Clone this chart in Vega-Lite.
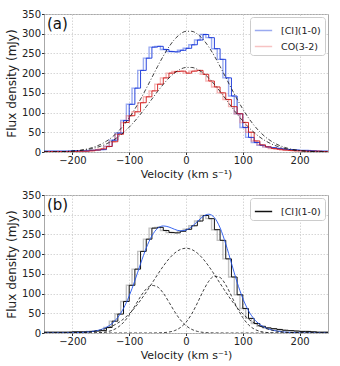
{
  "$schema": "https://vega.github.io/schema/vega-lite/v6.json",
  "background": "white",
  "padding": {"left": 4, "top": 8, "right": 10, "bottom": 2},
  "spacing": 9,
  "datasets": {
    "labels_a": [{"label": "(a)"}],
    "labels_b": [{"label": "(b)"}],
    "ci": [
      {"v":-250,"f":2},{"v":-240,"f":2},{"v":-230,"f":2},{"v":-220,"f":2},{"v":-210,"f":2},
      {"v":-200,"f":3},{"v":-190,"f":3},{"v":-180,"f":3},{"v":-170,"f":4},{"v":-160,"f":5},
      {"v":-150,"f":6},{"v":-140,"f":14},{"v":-130,"f":30},{"v":-120,"f":48},{"v":-110,"f":80},
      {"v":-100,"f":121},{"v":-90,"f":162},{"v":-80,"f":207},{"v":-70,"f":238},{"v":-60,"f":266},
      {"v":-50,"f":268},{"v":-40,"f":260},{"v":-30,"f":255},{"v":-20,"f":254},{"v":-10,"f":258},
      {"v":0,"f":263},{"v":10,"f":272},{"v":20,"f":284},{"v":30,"f":298},{"v":40,"f":290},
      {"v":50,"f":262},{"v":60,"f":235},{"v":70,"f":188},{"v":80,"f":142},{"v":90,"f":97},
      {"v":100,"f":62},{"v":110,"f":37},{"v":120,"f":24},{"v":130,"f":17},{"v":140,"f":13},
      {"v":150,"f":11},{"v":160,"f":9},{"v":170,"f":7},{"v":180,"f":6},{"v":190,"f":5},
      {"v":200,"f":4},{"v":210,"f":4},{"v":220,"f":3},{"v":230,"f":2},{"v":240,"f":2},{"v":250,"f":2}
    ],
    "co": [
      {"v":-250,"f":1},{"v":-240,"f":1},{"v":-230,"f":1},{"v":-220,"f":1},{"v":-210,"f":1},
      {"v":-200,"f":1},{"v":-190,"f":2},{"v":-180,"f":2},{"v":-170,"f":3},{"v":-160,"f":5},
      {"v":-150,"f":8},{"v":-140,"f":14},{"v":-130,"f":26},{"v":-120,"f":45},{"v":-110,"f":75},
      {"v":-100,"f":92},{"v":-90,"f":102},{"v":-80,"f":125},{"v":-70,"f":140},{"v":-60,"f":155},
      {"v":-50,"f":172},{"v":-40,"f":188},{"v":-30,"f":200},{"v":-20,"f":204},{"v":-10,"f":205},
      {"v":0,"f":200},{"v":10,"f":205},{"v":20,"f":207},{"v":30,"f":197},{"v":40,"f":180},
      {"v":50,"f":165},{"v":60,"f":150},{"v":70,"f":133},{"v":80,"f":115},{"v":90,"f":97},
      {"v":100,"f":75},{"v":110,"f":50},{"v":120,"f":28},{"v":130,"f":18},{"v":140,"f":13},
      {"v":150,"f":9},{"v":160,"f":7},{"v":170,"f":5},{"v":180,"f":4},{"v":190,"f":3},
      {"v":200,"f":3},{"v":210,"f":2},{"v":220,"f":2},{"v":230,"f":2},{"v":240,"f":1},{"v":250,"f":1}
    ],
    "fa": [
      {"v":-250,"ci":0.2,"co":0.2},{"v":-240,"ci":0.3,"co":0.3},{"v":-230,"ci":0.5,"co":0.5},
      {"v":-220,"ci":0.9,"co":0.8},{"v":-210,"ci":1.5,"co":1.3},{"v":-200,"ci":2.5,"co":2.0},
      {"v":-190,"ci":3.9,"co":3.1},{"v":-180,"ci":6.0,"co":4.8},{"v":-170,"ci":9.1,"co":7.1},
      {"v":-160,"ci":13.5,"co":10.4},{"v":-150,"ci":19.5,"co":14.8},{"v":-140,"ci":27.5,"co":20.7},
      {"v":-130,"ci":37.9,"co":28.2},{"v":-120,"ci":51.1,"co":37.7},{"v":-110,"ci":67.3,"co":49.3},
      {"v":-100,"ci":86.6,"co":63.0},{"v":-90,"ci":109.0,"co":78.7},{"v":-80,"ci":134.0,"co":96.1},
      {"v":-70,"ci":161.0,"co":114.9},{"v":-60,"ci":189.0,"co":134.3},{"v":-50,"ci":217.0,"co":153.5},
      {"v":-40,"ci":243.3,"co":171.6},{"v":-30,"ci":266.7,"co":187.6},{"v":-20,"ci":285.8,"co":200.5},
      {"v":-10,"ci":299.2,"co":209.7},{"v":0,"ci":306.1,"co":214.4},{"v":10,"ci":306.1,"co":214.4},
      {"v":20,"ci":299.2,"co":209.7},{"v":30,"ci":285.8,"co":200.5},{"v":40,"ci":266.7,"co":187.6},
      {"v":50,"ci":243.3,"co":171.6},{"v":60,"ci":217.0,"co":153.5},{"v":70,"ci":189.0,"co":134.3},
      {"v":80,"ci":161.0,"co":114.9},{"v":90,"ci":134.0,"co":96.1},{"v":100,"ci":109.0,"co":78.7},
      {"v":110,"ci":86.6,"co":63.0},{"v":120,"ci":67.3,"co":49.3},{"v":130,"ci":51.1,"co":37.7},
      {"v":140,"ci":37.9,"co":28.2},{"v":150,"ci":27.5,"co":20.7},{"v":160,"ci":19.5,"co":14.8},
      {"v":170,"ci":13.5,"co":10.4},{"v":180,"ci":9.1,"co":7.1},{"v":190,"ci":6.0,"co":4.8},
      {"v":200,"ci":3.9,"co":3.1},{"v":210,"ci":2.5,"co":2.0},{"v":220,"ci":1.5,"co":1.3},
      {"v":230,"ci":0.9,"co":0.8},{"v":240,"ci":0.5,"co":0.5},{"v":250,"ci":0.3,"co":0.3}
    ],
    "fb": [
      {"v":-250,"L":0,"C":0,"R":0,"T":0},{"v":-240,"L":0,"C":0,"R":0,"T":0},
      {"v":-230,"L":0,"C":0.1,"R":0,"T":0.1},{"v":-220,"L":0,"C":0.2,"R":0,"T":0.2},
      {"v":-210,"L":0,"C":0.3,"R":0,"T":0.3},{"v":-200,"L":0,"C":0.6,"R":0,"T":0.6},
      {"v":-190,"L":0,"C":1.0,"R":0,"T":1.0},{"v":-180,"L":0,"C":1.7,"R":0,"T":1.7},
      {"v":-170,"L":0.1,"C":2.9,"R":0,"T":3.0},{"v":-160,"L":0.4,"C":4.8,"R":0,"T":5.2},
      {"v":-150,"L":1.1,"C":7.6,"R":0,"T":8.7},{"v":-140,"L":2.9,"C":11.7,"R":0,"T":14.6},
      {"v":-130,"L":6.8,"C":17.4,"R":0,"T":24.2},{"v":-120,"L":14.3,"C":25.3,"R":0,"T":39.6},
      {"v":-110,"L":26.9,"C":35.6,"R":0,"T":62.5},{"v":-100,"L":45.4,"C":48.6,"R":0,"T":94.0},
      {"v":-90,"L":68.5,"C":64.5,"R":0,"T":133.0},{"v":-80,"L":92.5,"C":83.1,"R":0,"T":175.6},
      {"v":-70,"L":111.7,"C":103.8,"R":0,"T":215.5},{"v":-60,"L":120.7,"C":125.9,"R":0,"T":246.6},
      {"v":-50,"L":116.8,"C":148.3,"R":0.3,"T":265.4},{"v":-40,"L":101.1,"C":169.5,"R":0.9,"T":271.5},
      {"v":-30,"L":78.3,"C":188.1,"R":2.4,"T":268.8},{"v":-20,"L":54.2,"C":202.6,"R":6.1,"T":262.9},
      {"v":-10,"L":33.6,"C":211.8,"R":13.7,"T":259.1},{"v":0,"L":18.7,"C":215.0,"R":27.3,"T":261.0},
      {"v":10,"L":9.3,"C":211.8,"R":48.3,"T":269.4},{"v":20,"L":4.1,"C":202.6,"R":75.9,"T":282.6},
      {"v":30,"L":1.6,"C":188.1,"R":105.9,"T":295.6},{"v":40,"L":0.6,"C":169.5,"R":131.1,"T":301.2},
      {"v":50,"L":0.2,"C":148.3,"R":144.2,"T":292.7},{"v":60,"L":0.1,"C":125.9,"R":140.8,"T":266.8},
      {"v":70,"L":0,"C":103.8,"R":122.1,"T":225.9},{"v":80,"L":0,"C":83.1,"R":94.0,"T":177.1},
      {"v":90,"L":0,"C":64.5,"R":64.2,"T":128.7},{"v":100,"L":0,"C":48.6,"R":39.0,"T":87.6},
      {"v":110,"L":0,"C":35.6,"R":21.0,"T":56.6},{"v":120,"L":0,"C":25.3,"R":10.0,"T":35.3},
      {"v":130,"L":0,"C":17.4,"R":4.3,"T":21.7},{"v":140,"L":0,"C":11.7,"R":1.6,"T":13.3},
      {"v":150,"L":0,"C":7.6,"R":0.5,"T":8.1},{"v":160,"L":0,"C":4.8,"R":0.2,"T":5.0},
      {"v":170,"L":0,"C":2.9,"R":0,"T":2.9},{"v":180,"L":0,"C":1.7,"R":0,"T":1.7},
      {"v":190,"L":0,"C":1.0,"R":0,"T":1.0},{"v":200,"L":0,"C":0.6,"R":0,"T":0.6},
      {"v":210,"L":0,"C":0.3,"R":0,"T":0.3},{"v":220,"L":0,"C":0.2,"R":0,"T":0.2},
      {"v":230,"L":0,"C":0.1,"R":0,"T":0.1},{"v":240,"L":0,"C":0,"R":0,"T":0},
      {"v":250,"L":0,"C":0,"R":0,"T":0}
    ]
  },
  "resolve": {"scale": {"color": "independent"}, "legend": {"color": "independent"}},
  "vconcat": [
    {
      "width": 284,
      "height": 138,
      "layer": [
        {"data": {"name": "ci"}, "mark": {"type": "line", "interpolate": "step", "strokeWidth": 1.4, "opacity": 0.45, "clip": true},
         "encoding": {
           "x": {"field": "v", "type": "quantitative", "scale": {"domain": [-250, 250], "nice": false, "zero": false}, "axis": {"title": "Velocity (km s⁻¹)"}},
           "y": {"field": "f", "type": "quantitative", "scale": {"domain": [0, 350], "nice": false}, "axis": {"title": "Flux density (mJy)"}},
           "color": {"datum": "[CI](1-0)", "type": "nominal", "scale": {"domain": ["[CI](1-0)", "CO(3-2)"], "range": ["#2244e0", "#ee7b7b"]}, "legend": {"title": null, "orient": "top-right", "offset": 3, "fillColor": "white", "strokeColor": "#cccccc", "cornerRadius": 3, "padding": 4, "symbolType": "stroke", "symbolSize": 300, "symbolStrokeWidth": 1.5, "labelFontSize": 9.5, "labelColor": "#222", "rowPadding": 2, "labelOffset": 8}}}},
        {"data": {"name": "co"}, "mark": {"type": "line", "interpolate": "step", "strokeWidth": 1.4, "opacity": 0.55, "clip": true},
         "encoding": {"x": {"field": "v", "type": "quantitative"}, "y": {"field": "f", "type": "quantitative"}, "color": {"datum": "CO(3-2)", "type": "nominal"}}},
        {"data": {"name": "ci"}, "mark": {"type": "line", "interpolate": "step-after", "strokeWidth": 0.9, "color": "#1030d8", "clip": true},
         "encoding": {"x": {"field": "v", "type": "quantitative"}, "y": {"field": "f", "type": "quantitative"}}},
        {"data": {"name": "co"}, "mark": {"type": "line", "interpolate": "step-after", "strokeWidth": 0.9, "color": "#d01818", "clip": true},
         "encoding": {"x": {"field": "v", "type": "quantitative"}, "y": {"field": "f", "type": "quantitative"}}},
        {"data": {"name": "fa"}, "transform": [{"fold": ["ci", "co"], "as": ["g", "f"]}],
         "mark": {"type": "line", "interpolate": "monotone", "strokeWidth": 0.8, "color": "#111", "strokeDash": [4, 2, 1, 2], "clip": true},
         "encoding": {"x": {"field": "v", "type": "quantitative"}, "y": {"field": "f", "type": "quantitative"}, "detail": {"field": "g", "type": "nominal"}}},
        {"data": {"name": "labels_a"}, "mark": {"type": "text", "align": "left", "baseline": "top", "fontSize": 15, "dx": 3, "dy": 3, "color": "#111"},
         "encoding": {"text": {"field": "label", "type": "nominal"},
           "x": {"datum": -250, "type": "quantitative", "axis": {"title": "Velocity (km s⁻¹)"}},
           "y": {"datum": 350, "type": "quantitative", "axis": {"title": "Flux density (mJy)"}}}}
      ]
    },
    {
      "width": 284,
      "height": 138,
      "layer": [
        {"data": {"name": "ci"}, "mark": {"type": "line", "interpolate": "step", "strokeWidth": 1.4, "opacity": 0.45, "color": "#777777", "clip": true},
         "encoding": {
           "x": {"field": "v", "type": "quantitative", "scale": {"domain": [-250, 250], "nice": false, "zero": false}, "axis": {"title": "Velocity (km s⁻¹)"}},
           "y": {"field": "f", "type": "quantitative", "scale": {"domain": [0, 350], "nice": false}, "axis": {"title": "Flux density (mJy)"}}}},
        {"data": {"name": "ci"}, "mark": {"type": "line", "interpolate": "step-after", "strokeWidth": 1.0, "clip": true},
         "encoding": {"x": {"field": "v", "type": "quantitative"}, "y": {"field": "f", "type": "quantitative"},
           "color": {"datum": "[CI](1-0)", "type": "nominal", "scale": {"domain": ["[CI](1-0)"], "range": ["#111111"]}, "legend": {"title": null, "orient": "top-right", "offset": 3, "fillColor": "white", "strokeColor": "#cccccc", "cornerRadius": 3, "padding": 4, "symbolType": "stroke", "symbolSize": 300, "symbolStrokeWidth": 1.5, "labelFontSize": 9.5, "labelColor": "#222", "labelOffset": 8}}}},
        {"data": {"name": "fb"}, "mark": {"type": "line", "interpolate": "monotone", "strokeWidth": 0.9, "color": "#2255ee", "clip": true},
         "encoding": {"x": {"field": "v", "type": "quantitative"}, "y": {"field": "T", "type": "quantitative"}}},
        {"data": {"name": "fb"}, "transform": [{"fold": ["L", "C", "R"], "as": ["comp", "f"]}],
         "mark": {"type": "line", "interpolate": "monotone", "strokeWidth": 0.8, "color": "#111", "strokeDash": [3, 2], "clip": true},
         "encoding": {"x": {"field": "v", "type": "quantitative"}, "y": {"field": "f", "type": "quantitative"}, "detail": {"field": "comp", "type": "nominal"}}},
        {"data": {"name": "labels_b"}, "mark": {"type": "text", "align": "left", "baseline": "top", "fontSize": 15, "dx": 3, "dy": 3, "color": "#111"},
         "encoding": {"text": {"field": "label", "type": "nominal"},
           "x": {"datum": -250, "type": "quantitative", "axis": {"title": "Velocity (km s⁻¹)"}},
           "y": {"datum": 350, "type": "quantitative", "axis": {"title": "Flux density (mJy)"}}}}
      ]
    }
  ],
  "config": {
    "font": "DejaVu Sans",
    "view": {"stroke": "#a8a8a8", "strokeWidth": 1},
    "axis": {"grid": true, "gridColor": "#cccccc", "gridDash": [1.5, 1.5], "gridWidth": 0.8, "domain": false, "tickColor": "#333", "tickSize": 2.5, "labelFontSize": 10, "labelColor": "#222", "titleFontSize": 11, "titleFontWeight": "normal", "titleColor": "#222", "labelPadding": 1, "titlePadding": 3},
    "axisY": {"tickCount": 8, "titleFontSize": 12, "titlePadding": 3},
    "axisX": {"tickCount": 5}
  }
}
